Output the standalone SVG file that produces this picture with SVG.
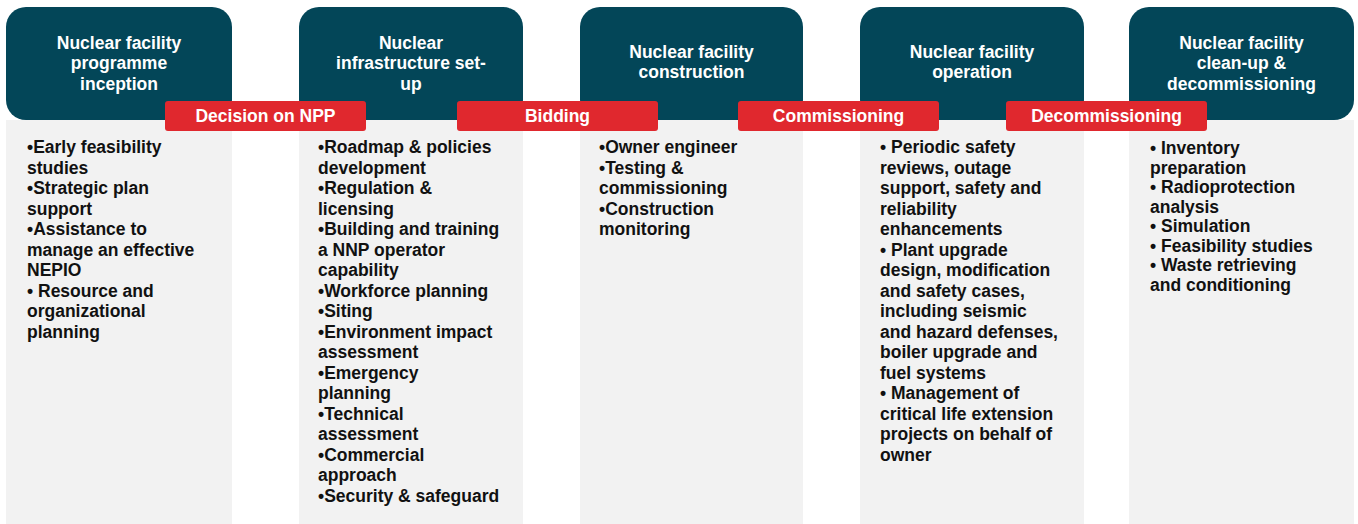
<svg xmlns="http://www.w3.org/2000/svg" width="1358" height="524" viewBox="0 0 1358 524">
<style>
.bg{fill:#ffffff}
.body{fill:#f2f2f2}
.head{fill:#034658}
.tag{fill:#e0282e}
.ht{font-family:"Liberation Sans",Arial,sans-serif;font-weight:bold;font-size:17.5px;fill:#ffffff;text-anchor:middle}
.bt{font-family:"Liberation Sans",Arial,sans-serif;font-weight:bold;font-size:17.5px;fill:#111111}
</style>
<rect class="bg" x="0" y="0" width="1358" height="524"/>
<g id="col1">
<rect class="body" x="6" y="120" width="226" height="404"/>
<rect class="head" x="6" y="7" width="226" height="113" rx="20"/>
<text class="ht" x="119" y="49">Nuclear facility</text>
<text class="ht" x="119" y="69">programme</text>
<text class="ht" x="119" y="90">inception</text>
<text class="bt" x="27" y="153">•Early feasibility</text>
<text class="bt" x="27" y="173.5">studies</text>
<text class="bt" x="27" y="194">•Strategic plan</text>
<text class="bt" x="27" y="214.5">support</text>
<text class="bt" x="27" y="235">•Assistance to</text>
<text class="bt" x="27" y="255.5">manage an effective</text>
<text class="bt" x="27" y="276">NEPIO</text>
<text class="bt" x="27" y="296.5">• Resource and</text>
<text class="bt" x="27" y="317">organizational</text>
<text class="bt" x="27" y="337.5">planning</text>
</g>
<g id="col2">
<rect class="body" x="299" y="120" width="224" height="404"/>
<rect class="head" x="299" y="7" width="224" height="113" rx="20"/>
<text class="ht" x="411" y="49">Nuclear</text>
<text class="ht" x="411" y="69">infrastructure set-</text>
<text class="ht" x="411" y="90">up</text>
<text class="bt" x="318" y="153">•Roadmap &amp; policies</text>
<text class="bt" x="318" y="173.5">development</text>
<text class="bt" x="318" y="194">•Regulation &amp;</text>
<text class="bt" x="318" y="214.5">licensing</text>
<text class="bt" x="318" y="235">•Building and training</text>
<text class="bt" x="318" y="255.5">a NNP operator</text>
<text class="bt" x="318" y="276">capability</text>
<text class="bt" x="318" y="296.5">•Workforce planning</text>
<text class="bt" x="318" y="317">•Siting</text>
<text class="bt" x="318" y="337.5">•Environment impact</text>
<text class="bt" x="318" y="358">assessment</text>
<text class="bt" x="318" y="378.5">•Emergency</text>
<text class="bt" x="318" y="399">planning</text>
<text class="bt" x="318" y="419.5">•Technical</text>
<text class="bt" x="318" y="440">assessment</text>
<text class="bt" x="318" y="460.5">•Commercial</text>
<text class="bt" x="318" y="481">approach</text>
<text class="bt" x="318" y="501.5">•Security &amp; safeguard</text>
</g>
<g id="col3">
<rect class="body" x="580" y="120" width="223" height="404"/>
<rect class="head" x="580" y="7" width="223" height="113" rx="20"/>
<text class="ht" x="691.5" y="58">Nuclear facility</text>
<text class="ht" x="691.5" y="78">construction</text>
<text class="bt" x="599" y="153">•Owner engineer</text>
<text class="bt" x="599" y="173.5">•Testing &amp;</text>
<text class="bt" x="599" y="194">commissioning</text>
<text class="bt" x="599" y="214.5">•Construction</text>
<text class="bt" x="599" y="235">monitoring</text>
</g>
<g id="col4">
<rect class="body" x="860" y="120" width="224" height="404"/>
<rect class="head" x="860" y="7" width="224" height="113" rx="20"/>
<text class="ht" x="972" y="58">Nuclear facility</text>
<text class="ht" x="972" y="78">operation</text>
<text class="bt" x="880" y="153">• Periodic safety</text>
<text class="bt" x="880" y="173.5">reviews, outage</text>
<text class="bt" x="880" y="194">support, safety and</text>
<text class="bt" x="880" y="214.5">reliability</text>
<text class="bt" x="880" y="235">enhancements</text>
<text class="bt" x="880" y="255.5">• Plant upgrade</text>
<text class="bt" x="880" y="276">design, modification</text>
<text class="bt" x="880" y="296.5">and safety cases,</text>
<text class="bt" x="880" y="317">including seismic</text>
<text class="bt" x="880" y="337.5">and hazard defenses,</text>
<text class="bt" x="880" y="358">boiler upgrade and</text>
<text class="bt" x="880" y="378.5">fuel systems</text>
<text class="bt" x="880" y="399">• Management of</text>
<text class="bt" x="880" y="419.5">critical life extension</text>
<text class="bt" x="880" y="440">projects on behalf of</text>
<text class="bt" x="880" y="460.5">owner</text>
</g>
<g id="col5">
<rect class="body" x="1129" y="120" width="225" height="404"/>
<rect class="head" x="1129" y="7" width="225" height="113" rx="20"/>
<text class="ht" x="1241.5" y="49">Nuclear facility</text>
<text class="ht" x="1241.5" y="69">clean-up &amp;</text>
<text class="ht" x="1241.5" y="90">decommissioning</text>
<text class="bt" x="1150" y="154">• Inventory</text>
<text class="bt" x="1150" y="173.5">preparation</text>
<text class="bt" x="1150" y="193">• Radioprotection</text>
<text class="bt" x="1150" y="212.5">analysis</text>
<text class="bt" x="1150" y="232">• Simulation</text>
<text class="bt" x="1150" y="251.5">• Feasibility studies</text>
<text class="bt" x="1150" y="271">• Waste retrieving</text>
<text class="bt" x="1150" y="290.5">and conditioning</text>
</g>
<g id="milestones">
<g id="m1"><rect class="tag" x="165" y="101" width="201" height="30" rx="3"/><text class="ht" x="265.5" y="122">Decision on NPP</text></g>
<g id="m2"><rect class="tag" x="457" y="101" width="201" height="30" rx="3"/><text class="ht" x="557.5" y="122">Bidding</text></g>
<g id="m3"><rect class="tag" x="738" y="101" width="201" height="30" rx="3"/><text class="ht" x="838.5" y="122">Commissioning</text></g>
<g id="m4"><rect class="tag" x="1006" y="101" width="201" height="30" rx="3"/><text class="ht" x="1106.5" y="122">Decommissioning</text></g>
</g>
</svg>
